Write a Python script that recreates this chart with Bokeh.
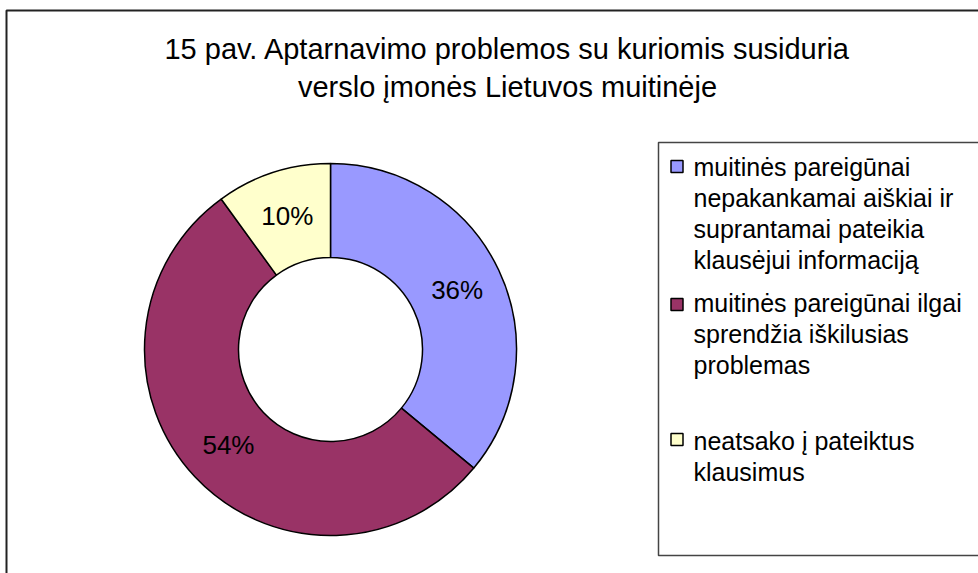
import math
from bokeh.plotting import figure
from bokeh.models import Range1d, ColumnDataSource
from bokeh.core.properties import value
from bokeh.embed import file_html
from bokeh.resources import INLINE

# ---- data ----
title_lines = ["15 pav. Aptarnavimo problemos su kuriomis susiduria",
               "verslo įmonės Lietuvos muitinėje"]
categories = ["muitinės pareigūnai\nnepakankamai aiškiai ir\nsuprantamai pateikia\nklausėjui informaciją",
              "muitinės pareigūnai ilgai\nsprendžia iškilusias\nproblemas",
              "neatsako į pateiktus\nklausimus"]
shares = [36, 54, 10]
colors = ["#9999FF", "#993366", "#FFFFCC"]

W, H = 978, 573
FONT = "Liberation Sans"

p = figure(width=W, height=H, output_backend="svg", toolbar_location=None,
           x_range=Range1d(0, W), y_range=Range1d(0, H),
           min_border=0, outline_line_color=None)
p.axis.visible = False
p.grid.visible = False
p.background_fill_color = "white"
p.border_fill_color = "white"

# chart frame (left and top visible; right/bottom cropped)
p.line(x=[6, 6, W + 10], y=[-10, 563, 563], line_color="#222222", line_width=2)

# title
p.text(x=[507, 507], y=[525, 487], text=title_lines,
       text_font=value(FONT), text_font_size="29px", text_color="black",
       text_align="center", text_baseline="alphabetic")

# donut
cx, cy = 330, 224
r_out, r_in = 186, 92
total = sum(shares)
starts, ends, mids = [], [], []
cum = 0.0
for v in shares:
    a0 = math.pi / 2 - 2 * math.pi * cum / total
    cum += v
    a1 = math.pi / 2 - 2 * math.pi * cum / total
    starts.append(a0)
    ends.append(a1)
    mids.append((a0 + a1) / 2)
src = ColumnDataSource(dict(start=starts, end=ends, color=colors))
p.annular_wedge(x=cx, y=cy, inner_radius=r_in, outer_radius=r_out,
                start_angle="start", end_angle="end", direction="clock",
                fill_color="color", line_color="black", line_width=1.5, source=src)

r_lab = 140
lx = [cx + r_lab * math.cos(a) for a in mids]
ly = [cy + r_lab * math.sin(a) for a in mids]
p.text(x=lx, y=ly, text=[f"{v}%" for v in shares],
       text_font=value(FONT), text_font_size="26px", text_color="black",
       text_align="center", text_baseline="middle")

# legend box
p.quad(left=658, right=W + 20, top=431, bottom=18, fill_color="white",
       line_color="#444444", line_width=1.5)

sw_y = [407, 269, 134]
base_y = [407, 271, 133]
line_gap = 31
p.rect(x=[676.5] * 3, y=sw_y, width=12, height=12, fill_color=colors,
       line_color="black", line_width=1.5)
tx, ty, tt = [], [], []
for lab, by in zip(categories, base_y):
    for i, ln in enumerate(lab.split("\n")):
        tx.append(693)
        ty.append(by - i * line_gap)
        tt.append(ln)
p.text(x=tx, y=ty, text=tt, text_font=value(FONT), text_font_size="25px",
       text_color="black", text_align="left", text_baseline="alphabetic")

open("out.html", "w").write(file_html(p, INLINE))
